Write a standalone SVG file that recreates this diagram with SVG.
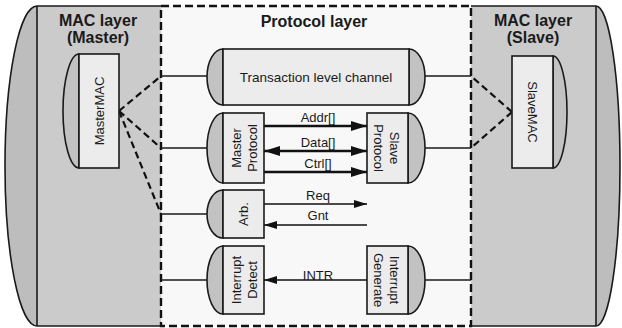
<svg xmlns="http://www.w3.org/2000/svg" width="622" height="328" viewBox="0 0 622 328">
<defs>
<style>
.outline{fill:none;stroke:#1a1a1a;stroke-width:1.6}
.mac{fill:#cbcbcb}
.maccap{fill:#bdbdbd}
.proto{fill:#f8f8f8;stroke:#111;stroke-width:2.4;stroke-dasharray:8 4}
.box{fill:#ececec;stroke:#1a1a1a;stroke-width:1.6}
.cap{fill:#c2c2c2;stroke:#1a1a1a;stroke-width:1.6}
.wire{fill:none;stroke:#1a1a1a;stroke-width:1.5}
.dash{fill:none;stroke:#111;stroke-width:2.2;stroke-dasharray:7 4}
.bus{fill:none;stroke:#111;stroke-width:2.4}
.sig{fill:none;stroke:#111;stroke-width:1.6}
.title{font-family:"Liberation Sans",Arial,sans-serif;font-size:16px;font-weight:bold;fill:#1a1a1a;text-anchor:middle}
.lbl{font-family:"Liberation Sans",Arial,sans-serif;font-size:13px;fill:#1a1a1a;text-anchor:middle}
.lbl2{font-family:"Liberation Sans",Arial,sans-serif;font-size:13.5px;fill:#1a1a1a;text-anchor:middle}
</style>
<marker id="ahBig" markerUnits="userSpaceOnUse" markerWidth="16" markerHeight="10" refX="16" refY="5" orient="auto-start-reverse" viewBox="0 0 16 10">
<path d="M0,0 L16,5 L0,10 Z" fill="#111"/>
</marker>
<marker id="ahSmall" markerUnits="userSpaceOnUse" markerWidth="13" markerHeight="8" refX="13" refY="4" orient="auto-start-reverse" viewBox="0 0 13 8">
<path d="M0,0 L13,4 L0,8 Z" fill="#111"/>
</marker>
</defs>

<g id="mac-master-layer">
<path class="maccap" d="M37,6 A32,160 0 0 0 37,326 Z"/>
<rect class="mac" x="37" y="6" width="124" height="320"/>
</g>
<g id="mac-slave-layer">
<path class="maccap" d="M596,6 A24,160 0 0 1 596,326 Z"/>
<rect class="mac" x="471" y="6" width="125" height="320"/>
</g>
<g id="protocol-layer">
<rect class="proto" x="161" y="6" width="310" height="320"/>
<text class="title" x="314" y="27">Protocol layer</text>
</g>
<g id="mac-outlines">
<path class="outline" d="M161,6 H37 A32,160 0 0 0 37,326 H161"/>
<line class="outline" x1="37" y1="6" x2="37" y2="326"/>
<path class="outline" d="M471,6 H596 A24,160 0 0 1 596,326 H471"/>
<line class="outline" x1="596" y1="6" x2="596" y2="326"/>
<text class="title" x="98" y="26">MAC layer</text>
<text class="title" x="98" y="43">(Master)</text>
<text class="title" x="533" y="26">MAC layer</text>
<text class="title" x="533" y="43">(Slave)</text>
</g>

<g id="connectors">
<line class="wire" x1="161" y1="76" x2="207" y2="76"/>
<line class="wire" x1="425" y1="76" x2="471" y2="76"/>
<line class="wire" x1="161" y1="148" x2="207" y2="148"/>
<line class="wire" x1="425" y1="148" x2="471" y2="148"/>
<line class="wire" x1="161" y1="214" x2="207" y2="214"/>
<line class="wire" x1="161" y1="280" x2="207" y2="280"/>
<line class="wire" x1="425" y1="280" x2="471" y2="280"/>
<path class="dash" d="M119,111 L161,76"/>
<path class="dash" d="M119,111 L161,148"/>
<path class="dash" d="M119,111 L161,214"/>
<path class="dash" d="M512,112 L471,76"/>
<path class="dash" d="M512,112 L471,148"/>
<path class="bus" d="M264,126 H367" marker-end="url(#ahBig)"/>
<path class="bus" d="M264,151 H367" marker-start="url(#ahBig)" marker-end="url(#ahBig)"/>
<path class="bus" d="M264,172 H367" marker-end="url(#ahBig)"/>
<path class="sig" d="M264,204 H367" marker-end="url(#ahSmall)"/>
<path class="sig" d="M367,225 H264" marker-end="url(#ahSmall)"/>
<path class="sig" d="M367,280 H264" marker-end="url(#ahSmall)"/>
<text class="lbl" x="318" y="122">Addr[]</text>
<text class="lbl" x="318" y="147">Data[]</text>
<text class="lbl" x="318" y="168">Ctrl[]</text>
<text class="lbl" x="318" y="200">Req</text>
<text class="lbl" x="318" y="220">Gnt</text>
<text class="lbl" x="318" y="280">INTR</text>
</g>

<g id="master-mac">
<path class="cap" d="M79,54 A16,57 0 0 0 79,168 Z"/>
<rect class="box" x="79" y="54" width="40" height="114"/>
<text class="lbl" transform="translate(99,111) rotate(-90)" x="0" y="4.7">MasterMAC</text>
</g>
<g id="slave-mac">
<path class="cap" d="M553,56 A14,56 0 0 1 553,168 Z"/>
<rect class="box" x="512" y="56" width="41" height="112"/>
<text class="lbl" transform="translate(532.5,112) rotate(90)" x="0" y="4.7">SlaveMAC</text>
</g>
<g id="transaction-level-channel">
<path class="cap" d="M223,49 A16,28 0 0 0 223,105 Z"/>
<path class="cap" d="M409,49 A16,28 0 0 1 409,105 Z"/>
<rect class="box" x="223" y="49" width="186" height="56"/>
<text class="lbl2" x="316" y="82">Transaction level channel</text>
</g>
<g id="master-protocol">
<path class="cap" d="M223,113 A16,35 0 0 0 223,183 Z"/>
<rect class="box" x="223" y="113" width="41" height="70"/>
<text class="lbl" transform="translate(243.5,148) rotate(-90)"><tspan x="0" y="-2.5">Master</tspan><tspan x="0" y="13.5">Protocol</tspan></text>
</g>
<g id="slave-protocol">
<path class="cap" d="M408,113 A17,35 0 0 1 408,183 Z"/>
<rect class="box" x="367" y="113" width="41" height="70"/>
<text class="lbl" transform="translate(387.5,148) rotate(90)"><tspan x="0" y="-2.5">Slave</tspan><tspan x="0" y="13.5">Protocol</tspan></text>
</g>
<g id="arbiter">
<path class="cap" d="M223,190 A16,24 0 0 0 223,238 Z"/>
<rect class="box" x="223" y="190" width="41" height="48"/>
<text class="lbl" transform="translate(243.5,214) rotate(-90)" x="0" y="4.7">Arb.</text>
</g>
<g id="interrupt-detect">
<path class="cap" d="M223,246 A16,34 0 0 0 223,314 Z"/>
<rect class="box" x="223" y="246" width="41" height="68"/>
<text class="lbl" transform="translate(243.5,280) rotate(-90)"><tspan x="0" y="-2.5">Interrupt</tspan><tspan x="0" y="13.5">Detect</tspan></text>
</g>
<g id="interrupt-generate">
<path class="cap" d="M408,246 A17,34 0 0 1 408,314 Z"/>
<rect class="box" x="367" y="246" width="41" height="68"/>
<text class="lbl" transform="translate(387.5,280) rotate(90)"><tspan x="0" y="-2.5">Interrupt</tspan><tspan x="0" y="13.5">Generate</tspan></text>
</g>
</svg>
